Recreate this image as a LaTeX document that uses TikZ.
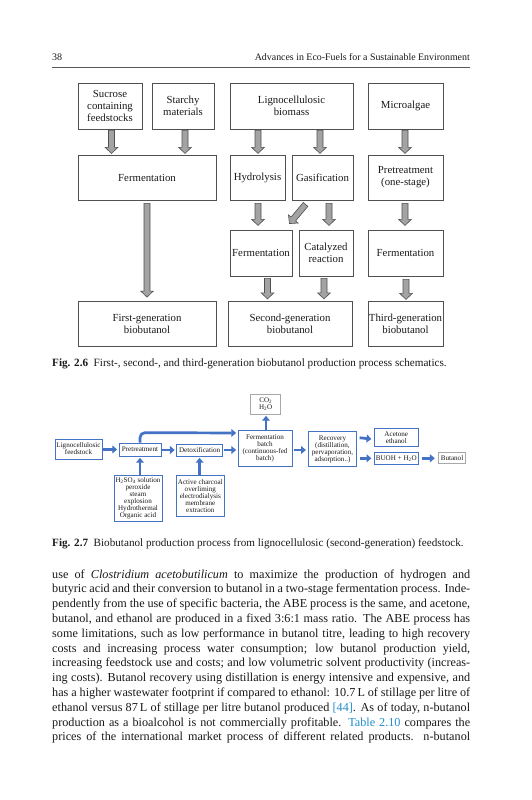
\documentclass[tikz,border=0pt]{standalone}
\usepackage{fontspec}
\setmainfont{Liberation Serif}
\usetikzlibrary{calc,arrows.meta}
\definecolor{boxgray}{HTML}{505050}
\definecolor{arrfill}{HTML}{A3A3A3}
\definecolor{arrline}{HTML}{505050}
\definecolor{ofblue}{HTML}{4472C4}
\definecolor{cbgray}{HTML}{A8A8A8}
\definecolor{linkblue}{RGB}{35,140,205}
\definecolor{txtdark}{HTML}{1A1A1A}
\newcommand{\blkarrow}[2]{%
  \coordinate (bantmp) at ($(#2)!6pt!(#1)$);
  \draw[blk] ($(#1)!3pt!90:(#2)$) -- ($(bantmp)!3pt!90:(#2)$) -- ($(bantmp)!6.3pt!90:(#2)$) -- (#2)
    -- ($(bantmp)!6.3pt!-90:(#2)$) -- ($(bantmp)!3pt!-90:(#2)$) -- ($(#1)!3pt!-90:(#2)$) -- cycle;}
\tikzset{
  boxA/.style={draw=boxgray, line width=0.85pt, inner sep=0pt, align=center, text=txtdark,
    font=\fontsize{10.8}{12}\selectfont},
  blk/.style={fill=arrfill, draw=arrline, line width=0.6pt, line join=miter},
  boxB/.style={draw=ofblue, line width=0.75pt, inner sep=0pt, align=center, text=txtdark,
    font=\fontsize{7.1}{7}\selectfont},
  boxBg/.style={boxB, draw=cbgray},
  barr/.style={draw=ofblue, line width=2.7pt, -{Triangle[length=4.8pt,width=7.8pt]}},
  bodyline/.style={anchor=base west, inner sep=0pt, text=txtdark, font=\fontsize{12.2}{14.8}\selectfont},
  capline/.style={anchor=base west, inner sep=0pt, text=txtdark, font=\fontsize{11.15}{13}\selectfont},
}
\begin{document}
\begin{tikzpicture}[x=1pt,y=-1pt]
\useasboundingbox[fill=white] (0,0) rectangle (531,800);

% ---------- header ----------
\node[anchor=base west, inner sep=0pt, text=txtdark, font=\fontsize{10}{12}\selectfont] (pgno) at (52,60) {38};
\node[anchor=base east, inner sep=0pt, text=txtdark, font=\fontsize{9.9}{12}\selectfont] (hdr) at (470,60) {Advances in Eco-Fuels for a Sustainable Environment};
\draw[line width=0.6pt, color=black!65] (52,67) -- (470,67);

% ---------- Fig 2.6 ----------
\node[boxA, minimum width=64, minimum height=46] (suc) at (110,106) {Sucrose\\containing\\feedstocks};
\node[boxA, minimum width=62, minimum height=46] (sta) at (183,106) {Starchy\\materials};
\node[boxA, minimum width=123, minimum height=46] (lig) at (291.5,106) {Lignocellulosic\\biomass};
\node[boxA, minimum width=75, minimum height=46] (mic) at (405.5,106) {Microalgae};

\node[boxA, minimum width=138, minimum height=45] (fer1) at (147,177.5) {Fermentation};
\node[boxA, minimum width=55, minimum height=45] (hyd) at (257.5,177.5) {Hydrolysis};
\node[boxA, minimum width=61, minimum height=45] (gas) at (322.5,177.5) {Gasification};
\node[boxA, minimum width=75, minimum height=45] (pre) at (405.5,177.5) {Pretreatment\\(one-stage)};

\node[boxA, minimum width=62, minimum height=46] (fer2) at (261,253) {Fermentation};
\node[boxA, minimum width=54, minimum height=46] (cat) at (326,253) {Catalyzed\\reaction};
\node[boxA, minimum width=75, minimum height=46] (fer3) at (405.5,253) {Fermentation};

\node[boxA, minimum width=138, minimum height=45] (gen1) at (147,323.5) {First-generation\\biobutanol};
\node[boxA, minimum width=124, minimum height=45] (gen2) at (290,323.5) {Second-generation\\biobutanol};
\node[boxA, minimum width=75, minimum height=45] (gen3) at (405.5,323.5) {Third-generation\\biobutanol};

% block arrow end points
\coordinate (a1s) at ($(suc.south)+(1.5,1)$);   \coordinate (a1e) at ($(a1s)+(0,23)$);
\coordinate (a2s) at ($(sta.south)+(2,1)$);     \coordinate (a2e) at ($(a2s)+(0,23)$);
\coordinate (a3s) at ($(lig.south -| hyd.north)+(0.5,1)$); \coordinate (a3e) at ($(a3s)+(0,23)$);
\coordinate (a4s) at ($(lig.south -| gas.north)+(-2.5,1)$); \coordinate (a4e) at ($(a4s)+(0,23)$);
\coordinate (a5s) at ($(mic.south)+(-0.5,1)$);  \coordinate (a5e) at ($(a5s)+(0,23)$);
\coordinate (a6s) at ($(fer1.south)+(0,3)$);    \coordinate (a6e) at ($(gen1.north)+(0,-3.5)$);
\coordinate (a7s) at ($(hyd.south)+(0.5,3)$);   \coordinate (a7e) at ($(a7s)+(0,22)$);
\coordinate (a8s) at ($(gas.south west)+(14,4)$); \coordinate (a8e) at ($(fer2.north east)+(-3,-6)$);
\coordinate (a9s) at ($(gas.south)+(6.5,3)$);   \coordinate (a9e) at ($(a9s)+(0,22)$);
\coordinate (a10s) at ($(pre.south)+(-0.5,3)$); \coordinate (a10e) at ($(a10s)+(0,22)$);
\coordinate (a11s) at ($(fer2.south)+(6.5,2)$); \coordinate (a11e) at ($(a11s)+(0,20.5)$);
\coordinate (a12s) at ($(cat.south)+(-2,2)$);   \coordinate (a12e) at ($(a12s)+(0,20.5)$);
\coordinate (a13s) at ($(fer3.south)+(0.5,3)$); \coordinate (a13e) at ($(a13s)+(0,20)$);

\blkarrow{a1s}{a1e}
\blkarrow{a2s}{a2e}
\blkarrow{a3s}{a3e}
\blkarrow{a4s}{a4e}
\blkarrow{a5s}{a5e}
\blkarrow{a6s}{a6e}
\blkarrow{a7s}{a7e}
\blkarrow{a8s}{a8e}
\blkarrow{a9s}{a9e}
\blkarrow{a10s}{a10e}
\blkarrow{a11s}{a11e}
\blkarrow{a12s}{a12e}
\blkarrow{a13s}{a13e}

\node[capline] (cap6) at (52,366) {\textbf{Fig. 2.6}\enspace First-, second-, and third-generation biobutanol production process schematics.};

% ---------- Fig 2.7 ----------
\node[boxB, minimum width=47, minimum height=20] (lf) at (78.5,449) {Lignocellulosic\\feedstock};
\node[boxB, minimum width=42, minimum height=13] (pt) at (140,449.5) {Pretreatment};
\node[boxB, minimum width=46, minimum height=12] (dx) at (199.6,450) {Detoxification};
\node[boxB, minimum width=54, minimum height=36] (fm) at (265,448.5) {Fermentation\\batch\\(continuous-fed\\batch)};
\node[boxBg, minimum width=30, minimum height=20] (co) at (265.7,404) {CO\textsubscript{2}\\H\textsubscript{2}O};
\node[boxB, minimum width=48.5, minimum height=35] (rc) at (332.5,449) {Recovery\\(distillation,\\pervaporation,\\adsorption..)};
\node[boxB, minimum width=44, minimum height=18.4] (ae) at (396.3,437.5) {Acetone\\ethanol};
\node[boxB, minimum width=44, minimum height=11.3] (bw) at (396.3,458.3) {BUOH + H\textsubscript{2}O};
\node[boxBg, minimum width=27.7, minimum height=10.6] (bu) at (452,458) {Butanol};
\node[boxB, minimum width=48, minimum height=46.7] (hs) at (138,498.3) {H\textsubscript{2}SO\textsubscript{4} solution\\peroxide\\steam\\explosion\\Hydrothermal\\Organic acid};
\node[boxB, minimum width=47.3, minimum height=41.7] (ac) at (200.3,495.8) {Active charcoal\\overliming\\electrodialysis\\membrane\\extraction};

\draw[barr, shorten <=1pt, shorten >=1.5pt] (lf.east |- pt.west) -- (pt.west);
\draw[barr, shorten <=1pt, shorten >=1.5pt] (pt.east |- dx.west) -- (dx.west);
\draw[barr, shorten <=1.5pt, shorten >=1.5pt] (dx.east) -- (dx.east -| fm.west);
\draw[barr, rounded corners=5pt, shorten >=1.5pt] (pt.north) -- ++(0,-10) -- ($(fm.west)+(0,-15.5)$);
\draw[barr, shorten >=1.5pt] (pt.south |- hs.north) -- (pt.south);
\draw[barr, shorten >=1.5pt] (ac.north -| dx.south) -- (dx.south);
\draw[barr, shorten >=1.5pt] ($(fm.north)+(1,0)$) -- ($(co.south)+(0.3,0)$);
\draw[barr, shorten <=1.5pt, shorten >=2pt] ($(fm.east)+(0,1.5)$) -- ($(rc.west)+(0,1)$);
\draw[barr, shorten <=2.5pt, shorten >=2.5pt] (rc.east |- ae.west) -- ($(ae.west)+(0,1.8)$);
\draw[barr, shorten <=2.5pt, shorten >=2.5pt] (rc.east |- bw.west) -- (bw.west);
\draw[barr, shorten <=3pt, shorten >=3pt] (bw.east) -- (bw.east -| bu.west);

\node[capline] (cap7) at (52,546) {\textbf{Fig. 2.7}\enspace Biobutanol production process from lignocellulosic (second-generation) feedstock.};

% ---------- body text ----------
\node[bodyline] (l1) at (52,578.0) {\hbox to 418pt{use of \textit{Clostridium acetobutilicum} to maximize the production of hydrogen and}};
\node[bodyline] (l2) at (52,592.8) {\hbox to 418pt{butyric acid and their conversion to butanol in a two-stage fermentation process. Inde-}};
\node[bodyline] (l3) at (52,607.6) {\hbox to 418pt{pendently from the use of specific bacteria, the ABE process is the same, and acetone,}};
\node[bodyline] (l4) at (52,622.4) {\hbox to 418pt{butanol, and ethanol are produced in a fixed 3:6:1 mass ratio. The ABE process has}};
\node[bodyline] (l5) at (52,637.2) {\hbox to 418pt{some limitations, such as low performance in butanol titre, leading to high recovery}};
\node[bodyline] (l6) at (52,652.0) {\hbox to 418pt{costs and increasing process water consumption; low butanol production yield,}};
\node[bodyline] (l7) at (52,666.8) {\hbox to 418pt{increasing feedstock use and costs; and low volumetric solvent productivity (increas-}};
\node[bodyline] (l8) at (52,681.6) {\hbox to 418pt{ing costs). Butanol recovery using distillation is energy intensive and expensive, and}};
\node[bodyline] (l9) at (52,696.4) {\hbox to 418pt{has a higher wastewater footprint if compared to ethanol: 10.7\,L of stillage per litre of}};
\node[bodyline] (l10) at (52,711.2) {\hbox to 418pt{ethanol versus 87\,L of stillage per litre butanol produced {\color{linkblue}[44]}. As of today, n-butanol}};
\node[bodyline] (l11) at (52,726.0) {\hbox to 418pt{production as a bioalcohol is not commercially profitable. {\color{linkblue}Table 2.10} compares the}};
\node[bodyline] (l12) at (52,740.8) {\hbox to 418pt{prices of the international market process of different related products. n-butanol}};
\end{tikzpicture}
\end{document}
